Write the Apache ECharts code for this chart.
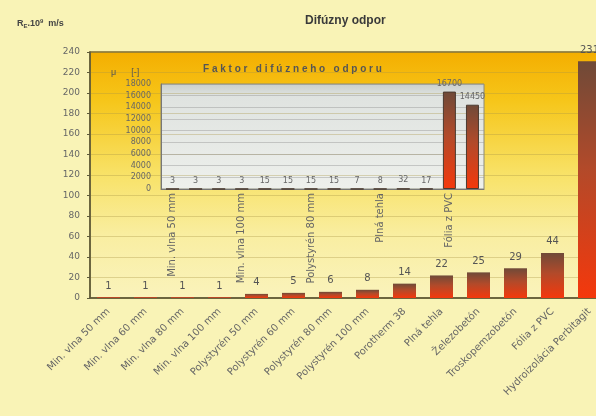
<!DOCTYPE html>
<html>
<head>
<meta charset="utf-8">
<script src="https://cdn.jsdelivr.net/npm/echarts@6/dist/echarts.min.js"></script>
<style>
  html, body { margin: 0; padding: 0; background: #f9f3b6; }
  #main { width: 596px; height: 416px; }
</style>
</head>
<body>
<div id="main"></div>
<script>
// main chart data
var categories = ['Min. vlna 50 mm', 'Min. vlna 60 mm', 'Min. vlna 80 mm', 'Min. vlna 100 mm',
    'Polystyrén 50 mm', 'Polystyrén 60 mm', 'Polystyrén 80 mm', 'Polystyrén 100 mm',
    'Porotherm 38', 'Plná tehla', 'Železobetón', 'Troskopemzobetón', 'Fólia z PVC',
    'Hydroizolácia Perbitagit'];
var resistance = [1, 1, 1, 1, 4, 5, 6, 8, 14, 22, 25, 29, 44, 231];
var yTicks = [0, 240, 20];

// inset data (faktor difúzneho odporu)
var insetCategories = ['Min. vlna 50 mm', 'Min. vlna 60 mm', 'Min. vlna 80 mm', 'Min. vlna 100 mm',
    'Polystyrén 50 mm', 'Polystyrén 60 mm', 'Polystyrén 80 mm', 'Polystyrén 100 mm',
    'Porotherm 38', 'Plná tehla', 'Železobetón', 'Troskopemzobetón', 'Fólia z PVC',
    'Hydroizolácia Perbitagit'];
var mu = [3, 3, 3, 3, 15, 15, 15, 15, 7, 8, 32, 17, 16700, 14450];
var insetTicks = [0, 18000, 2000];

var myChart = echarts.init(document.getElementById('main'));
var font = '"Liberation Sans", Arial, sans-serif';
var wide = '"DejaVu Sans", sans-serif';

var barColor = new echarts.graphic.LinearGradient(0, 0, 0, 1, [
    { offset: 0, color: '#6f4a38' },
    { offset: 0.45, color: '#b24a2a' },
    { offset: 1, color: '#f4380c' }
]);

var option = {
    backgroundColor: '#f9f3b6',
    textStyle: { fontFamily: font },
    title: [
        {
            text: 'Difúzny odpor',
            left: 300, top: 10,
            textStyle: { fontSize: 12, fontWeight: 'bold', color: '#3a3a3a', fontFamily: font }
        },
        {
            text: '{a|R}{s|E}{a|.10}{p|9}{a|  m/s}',
            left: 12, top: 13,
            textStyle: {
                rich: {
                    a: { fontSize: 9, fontWeight: 'bold', color: '#444', fontFamily: font },
                    s: { fontSize: 6, color: '#444', verticalAlign: 'bottom', padding: [5, 0, 0, 0] },
                    p: { fontSize: 6, color: '#444', verticalAlign: 'top', padding: [0, 0, 5, 0] }
                }
            }
        },
        {
            text: 'F a k t o r   d i f ú z n e h o   o d p o r u',
            left: 198, top: 59,
            textStyle: { fontSize: 10, fontWeight: 'bold', color: '#555', fontFamily: font }
        },
        {
            text: 'μ      [-]',
            left: 106, top: 63,
            textStyle: { fontSize: 9, color: '#555', fontWeight: 'normal', fontFamily: font }
        }
    ],
    grid: [
        {
            left: 90, top: 52, width: 518, height: 246,
            outerBoundsMode: 'none',
            show: true,
            borderColor: '#7a6a30',
            borderWidth: 1.5,
            backgroundColor: new echarts.graphic.LinearGradient(0, 0, 0, 1, [
                { offset: 0, color: '#f4ae00' },
                { offset: 0.2, color: '#f6c61a' },
                { offset: 0.5, color: '#f8e268' },
                { offset: 0.75, color: '#f9eea2' },
                { offset: 1, color: '#faf3bc' }
            ])
        },
        {
            left: 161, top: 84, width: 323, height: 105,
            outerBoundsMode: 'none',
            show: true,
            borderColor: '#8a8a7a',
            borderWidth: 1,
            backgroundColor: new echarts.graphic.LinearGradient(0, 0, 0, 1, [
                { offset: 0, color: '#c9cfcc' },
                { offset: 0.12, color: '#dfe3e0' },
                { offset: 1, color: '#eef0ec' }
            ])
        }
    ],
    xAxis: [
        {
            type: 'category',
            gridIndex: 0,
            data: categories,
            axisLine: { lineStyle: { color: '#5e5a3a', width: 1.5 } },
            axisTick: { show: false },
            axisLabel: { rotate: 45, interval: 0, fontSize: 10, color: '#666', margin: 12, fontFamily: wide }
        },
        {
            type: 'category',
            gridIndex: 1,
            data: insetCategories,
            axisLine: { lineStyle: { color: '#777' } },
            axisTick: { show: false },
            axisLabel: { rotate: 90, interval: 2, fontSize: 10, color: '#666', margin: 4, fontFamily: wide }
        }
    ],
    yAxis: [
        {
            type: 'value',
            gridIndex: 0,
            min: yTicks[0], max: yTicks[1], interval: yTicks[2],
            axisLine: { show: true, lineStyle: { color: '#5e5a3a', width: 1.5 } },
            axisTick: { show: true, length: 3, lineStyle: { color: '#5e5a3a' } },
            axisLabel: { fontSize: 9, color: '#666', margin: 10, fontFamily: wide },
            splitLine: { lineStyle: { color: 'rgba(170,150,70,0.35)' } }
        },
        {
            type: 'value',
            gridIndex: 1,
            min: insetTicks[0], max: insetTicks[1], interval: insetTicks[2],
            axisLine: { show: true, lineStyle: { color: '#777' } },
            axisTick: { show: false },
            axisLabel: {
                fontSize: 8, color: '#666', margin: 10, fontFamily: wide,
                formatter: function (v) { return String(v); }
            },
            splitLine: { lineStyle: { color: 'rgba(150,150,150,0.45)' } }
        }
    ],
    series: [
        {
            name: 'Difúzny odpor',
            type: 'bar',
            xAxisIndex: 0, yAxisIndex: 0,
            data: resistance,
            barWidth: 23,
            itemStyle: { color: barColor },
            label: { show: true, position: 'top', fontSize: 10, color: '#555', distance: 6, fontFamily: wide }
        },
        {
            name: 'Faktor difúzneho odporu',
            type: 'bar',
            xAxisIndex: 1, yAxisIndex: 1,
            data: mu,
            barWidth: 13,
            itemStyle: { color: barColor, borderColor: '#4a3a30', borderWidth: 1 },
            label: { show: true, position: 'top', fontSize: 8, color: '#666', distance: 4, fontFamily: wide }
        }
    ]
};

myChart.setOption(option);
</script>
</body>
</html>
